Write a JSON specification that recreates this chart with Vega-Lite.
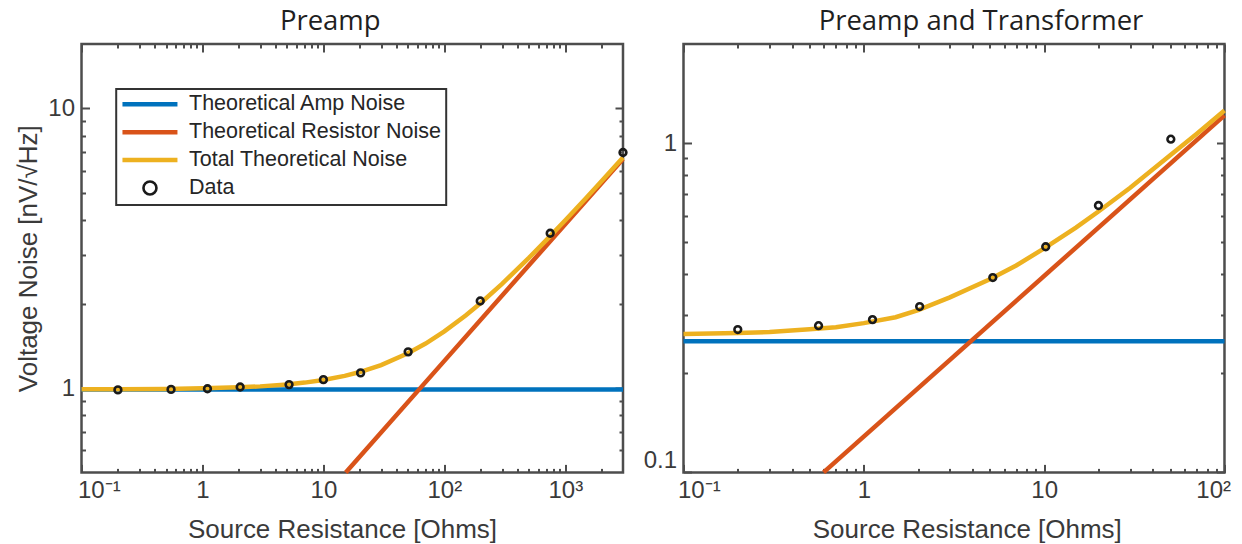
{
  "$schema": "https://vega.github.io/schema/vega-lite/v6.json",
  "background": "white",
  "padding": {"left": 13.5, "top": 7, "right": 4, "bottom": 4},
  "spacing": 8,
  "datasets": {
    "preamp_curves": [
      {"series": "Theoretical Amp Noise", "r": 0.1, "v": 0.99},
      {"series": "Theoretical Amp Noise", "r": 3000, "v": 0.99},
      {"series": "Theoretical Resistor Noise", "r": 15.3, "v": 0.5},
      {"series": "Theoretical Resistor Noise", "r": 100, "v": 1.252},
      {"series": "Theoretical Resistor Noise", "r": 3000, "v": 6.6},
      {"series": "Total Theoretical Noise", "r": 0.1, "v": 0.991},
      {"series": "Total Theoretical Noise", "r": 0.2, "v": 0.992},
      {"series": "Total Theoretical Noise", "r": 0.5, "v": 0.994},
      {"series": "Total Theoretical Noise", "r": 1, "v": 0.999},
      {"series": "Total Theoretical Noise", "r": 2, "v": 1.007},
      {"series": "Total Theoretical Noise", "r": 3, "v": 1.015},
      {"series": "Total Theoretical Noise", "r": 5, "v": 1.031},
      {"series": "Total Theoretical Noise", "r": 7, "v": 1.047},
      {"series": "Total Theoretical Noise", "r": 10, "v": 1.07},
      {"series": "Total Theoretical Noise", "r": 15, "v": 1.107},
      {"series": "Total Theoretical Noise", "r": 20, "v": 1.142},
      {"series": "Total Theoretical Noise", "r": 30, "v": 1.21},
      {"series": "Total Theoretical Noise", "r": 50, "v": 1.333},
      {"series": "Total Theoretical Noise", "r": 70, "v": 1.444},
      {"series": "Total Theoretical Noise", "r": 100, "v": 1.596},
      {"series": "Total Theoretical Noise", "r": 150, "v": 1.819},
      {"series": "Total Theoretical Noise", "r": 200, "v": 2.017},
      {"series": "Total Theoretical Noise", "r": 300, "v": 2.36},
      {"series": "Total Theoretical Noise", "r": 500, "v": 2.923},
      {"series": "Total Theoretical Noise", "r": 700, "v": 3.39},
      {"series": "Total Theoretical Noise", "r": 1000, "v": 3.985},
      {"series": "Total Theoretical Noise", "r": 1500, "v": 4.808},
      {"series": "Total Theoretical Noise", "r": 2000, "v": 5.506},
      {"series": "Total Theoretical Noise", "r": 3000, "v": 6.675}
    ],
    "preamp_points": [
      {"series": "Data", "r": 0.2, "v": 0.986},
      {"series": "Data", "r": 0.55, "v": 0.99},
      {"series": "Data", "r": 1.1, "v": 0.995},
      {"series": "Data", "r": 2.05, "v": 1.01},
      {"series": "Data", "r": 5.2, "v": 1.03},
      {"series": "Data", "r": 10, "v": 1.073},
      {"series": "Data", "r": 20.3, "v": 1.134},
      {"series": "Data", "r": 50.2, "v": 1.349},
      {"series": "Data", "r": 198, "v": 2.05},
      {"series": "Data", "r": 750, "v": 3.58},
      {"series": "Data", "r": 3000, "v": 6.96}
    ],
    "xfmr_curves": [
      {"series": "Theoretical Amp Noise", "r": 0.1, "v": 0.25},
      {"series": "Theoretical Amp Noise", "r": 100, "v": 0.25},
      {"series": "Theoretical Resistor Noise", "r": 0.598, "v": 0.1},
      {"series": "Theoretical Resistor Noise", "r": 100, "v": 1.214},
      {"series": "Total Theoretical Noise", "r": 0.1, "v": 0.263},
      {"series": "Total Theoretical Noise", "r": 0.2, "v": 0.265},
      {"series": "Total Theoretical Noise", "r": 0.3, "v": 0.267},
      {"series": "Total Theoretical Noise", "r": 0.5, "v": 0.272},
      {"series": "Total Theoretical Noise", "r": 0.7, "v": 0.276},
      {"series": "Total Theoretical Noise", "r": 1, "v": 0.284},
      {"series": "Total Theoretical Noise", "r": 1.5, "v": 0.296},
      {"series": "Total Theoretical Noise", "r": 2, "v": 0.311},
      {"series": "Total Theoretical Noise", "r": 3, "v": 0.34},
      {"series": "Total Theoretical Noise", "r": 5, "v": 0.386},
      {"series": "Total Theoretical Noise", "r": 7, "v": 0.425},
      {"series": "Total Theoretical Noise", "r": 10, "v": 0.479},
      {"series": "Total Theoretical Noise", "r": 15, "v": 0.554},
      {"series": "Total Theoretical Noise", "r": 20, "v": 0.62},
      {"series": "Total Theoretical Noise", "r": 30, "v": 0.732},
      {"series": "Total Theoretical Noise", "r": 50, "v": 0.918},
      {"series": "Total Theoretical Noise", "r": 70, "v": 1.066},
      {"series": "Total Theoretical Noise", "r": 100, "v": 1.257}
    ],
    "xfmr_points": [
      {"series": "Data", "r": 0.2, "v": 0.2715},
      {"series": "Data", "r": 0.561, "v": 0.279},
      {"series": "Data", "r": 1.117, "v": 0.2911},
      {"series": "Data", "r": 2.04, "v": 0.3189},
      {"series": "Data", "r": 5.19, "v": 0.3906},
      {"series": "Data", "r": 10.2, "v": 0.4845},
      {"series": "Data", "r": 20, "v": 0.6465},
      {"series": "Data", "r": 50.4, "v": 1.028}
    ]
  },
  "resolve": {"scale": {"color": "independent", "shape": "independent", "strokeWidth": "independent"}},
  "hconcat": [
    {
      "width": 541.5,
      "height": 428.4,
      "title": {"text": "Preamp", "dx": -22},
      "resolve": {"axis": {"x": "independent", "y": "independent"}},
      "layer": [
        {
          "data": {"name": "preamp_curves"},
          "transform": [{"filter": "datum.series === 'Theoretical Amp Noise'"}],
          "mark": {"type": "line", "strokeCap": "butt"},
          "encoding": {
            "x": {"field": "r", "type": "quantitative", "scale": {"type": "log", "domain": [0.1, 3000], "nice": false},
              "axis": {"orient": "bottom", "values": [0.1, 1, 10, 100, 1000], "tickSize": -8, "labelPadding": 14.5,
                "labelFlush": true, "labelFlushOffset": 4,
                "labelExpr": "datum.value < 0.5 ? '10⁻¹' : datum.value < 5 ? '1' : datum.value < 50 ? '10' : datum.value < 500 ? '10²' : '10³'",
                "title": "Source Resistance [Ohms]", "titleX": 260.5, "titleY": 65.5, "titleBaseline": "alphabetic", "titleAlign": "center"}},
            "y": {"field": "v", "type": "quantitative", "scale": {"type": "log", "domain": [0.5, 17], "nice": false},
              "axis": {"orient": "left", "values": [1, 10], "tickSize": -8, "labelPadding": 15,
                "labelExpr": "datum.value >= 5 ? '10' : '1'",
                "title": "Voltage Noise [nV/√Hz]", "titleX": -45, "titleBaseline": "alphabetic", "titleAngle": 270}},
            "color": {"field": "series", "type": "nominal",
              "scale": {"domain": ["Theoretical Amp Noise", "Theoretical Resistor Noise", "Total Theoretical Noise", "Data"], "range": ["#0072BD", "#D95319", "#EDB120", "#1a1a1a"]},
              "legend": {"orient": "none", "legendX": 34.7, "legendY": 45, "title": null, "padding": 4.5, "rowPadding": 4.9, "symbolOffset": 18.5, "labelOffset": 28.3, "symbolSize": 100, "labelFont": "Liberation Sans", "labelFontSize": 21.5, "labelColor": "#262626", "labelLimit": 400, "strokeColor": "#333333", "fillColor": "#ffffff", "cornerRadius": 0}},
            "strokeWidth": {"field": "series", "type": "nominal",
              "scale": {"type": "ordinal", "domain": ["Theoretical Amp Noise", "Theoretical Resistor Noise", "Total Theoretical Noise", "Data"], "range": [4.5, 4.5, 4.5, 2.6]},
              "legend": {"orient": "none", "legendX": 34.7, "legendY": 45, "title": null, "padding": 4.5, "rowPadding": 4.9, "symbolOffset": 18.5, "labelOffset": 28.3, "symbolSize": 100, "labelFont": "Liberation Sans", "labelFontSize": 21.5, "labelColor": "#262626", "labelLimit": 400, "strokeColor": "#333333", "fillColor": "#ffffff", "cornerRadius": 0}}
          }
        },
        {
          "data": {"name": "preamp_curves"},
          "transform": [{"filter": "datum.series === 'Theoretical Resistor Noise'"}],
          "mark": {"type": "line", "strokeCap": "butt"},
          "encoding": {
            "x": {"field": "r", "type": "quantitative", "scale": {"type": "log", "domain": [0.1, 3000], "nice": false},
              "axis": {"orient": "bottom", "values": [0.2, 0.3, 0.4, 0.5, 0.6, 0.7, 0.8, 0.9, 2, 3, 4, 5, 6, 7, 8, 9, 20, 30, 40, 50, 60, 70, 80, 90, 200, 300, 400, 500, 600, 700, 800, 900, 2000], "tickSize": -4, "labels": false, "title": null}},
            "y": {"field": "v", "type": "quantitative", "scale": {"type": "log", "domain": [0.5, 17], "nice": false},
              "axis": {"orient": "left", "values": [0.6, 0.7, 0.8, 0.9, 2, 3, 4, 5, 6, 7, 8, 9], "tickSize": -4, "labels": false, "title": null}},
            "color": {"field": "series", "type": "nominal",
              "scale": {"domain": ["Theoretical Amp Noise", "Theoretical Resistor Noise", "Total Theoretical Noise", "Data"], "range": ["#0072BD", "#D95319", "#EDB120", "#1a1a1a"]},
              "legend": {"orient": "none", "legendX": 34.7, "legendY": 45, "title": null, "padding": 4.5, "rowPadding": 4.9, "symbolOffset": 18.5, "labelOffset": 28.3, "symbolSize": 100, "labelFont": "Liberation Sans", "labelFontSize": 21.5, "labelColor": "#262626", "labelLimit": 400, "strokeColor": "#333333", "fillColor": "#ffffff", "cornerRadius": 0}},
            "strokeWidth": {"field": "series", "type": "nominal",
              "scale": {"type": "ordinal", "domain": ["Theoretical Amp Noise", "Theoretical Resistor Noise", "Total Theoretical Noise", "Data"], "range": [4.5, 4.5, 4.5, 2.6]}}
          }
        },
        {
          "data": {"name": "preamp_curves"},
          "transform": [{"filter": "datum.series === 'Total Theoretical Noise'"}],
          "mark": {"type": "line", "strokeCap": "butt"},
          "encoding": {
            "x": {"field": "r", "type": "quantitative", "scale": {"type": "log", "domain": [0.1, 3000], "nice": false},
              "axis": {"orient": "top", "values": [0.1, 1, 10, 100, 1000], "tickSize": -8, "labels": false, "title": null}},
            "y": {"field": "v", "type": "quantitative", "scale": {"type": "log", "domain": [0.5, 17], "nice": false},
              "axis": {"orient": "right", "values": [1, 10], "tickSize": -8, "labels": false, "title": null}},
            "color": {"field": "series", "type": "nominal",
              "scale": {"domain": ["Theoretical Amp Noise", "Theoretical Resistor Noise", "Total Theoretical Noise", "Data"], "range": ["#0072BD", "#D95319", "#EDB120", "#1a1a1a"]}},
            "strokeWidth": {"field": "series", "type": "nominal",
              "scale": {"type": "ordinal", "domain": ["Theoretical Amp Noise", "Theoretical Resistor Noise", "Total Theoretical Noise", "Data"], "range": [4.5, 4.5, 4.5, 2.6]}}
          }
        },
        {
          "data": {"name": "preamp_points"},
          "mark": {"type": "point", "filled": false, "size": 27, "opacity": 1},
          "encoding": {
            "x": {"field": "r", "type": "quantitative", "scale": {"type": "log", "domain": [0.1, 3000], "nice": false},
              "axis": {"orient": "top", "values": [0.2, 0.3, 0.4, 0.5, 0.6, 0.7, 0.8, 0.9, 2, 3, 4, 5, 6, 7, 8, 9, 20, 30, 40, 50, 60, 70, 80, 90, 200, 300, 400, 500, 600, 700, 800, 900, 2000], "tickSize": -4, "labels": false, "title": null}},
            "y": {"field": "v", "type": "quantitative", "scale": {"type": "log", "domain": [0.5, 17], "nice": false},
              "axis": {"orient": "right", "values": [0.6, 0.7, 0.8, 0.9, 2, 3, 4, 5, 6, 7, 8, 9], "tickSize": -4, "labels": false, "title": null}},
            "color": {"field": "series", "type": "nominal",
              "scale": {"domain": ["Theoretical Amp Noise", "Theoretical Resistor Noise", "Total Theoretical Noise", "Data"], "range": ["#0072BD", "#D95319", "#EDB120", "#1a1a1a"]}},
            "shape": {"field": "series", "type": "nominal",
              "scale": {"domain": ["Theoretical Amp Noise", "Theoretical Resistor Noise", "Total Theoretical Noise", "Data"], "range": ["M-5.5,0H5.5", "M-5.5,0H5.5", "M-5.5,0H5.5", "M-1.3,0A1.3,1.3 0 1,1 1.3,0A1.3,1.3 0 1,1 -1.3,0Z"]},
              "legend": {"orient": "none", "legendX": 34.7, "legendY": 45, "title": null, "padding": 4.5, "rowPadding": 4.9, "symbolOffset": 18.5, "labelOffset": 28.3, "symbolSize": 100, "labelFont": "Liberation Sans", "labelFontSize": 21.5, "labelColor": "#262626", "labelLimit": 400, "strokeColor": "#333333", "fillColor": "#ffffff", "cornerRadius": 0}},
            "strokeWidth": {"field": "series", "type": "nominal",
              "scale": {"type": "ordinal", "domain": ["Theoretical Amp Noise", "Theoretical Resistor Noise", "Total Theoretical Noise", "Data"], "range": [4.5, 4.5, 4.5, 2.6]}}
          }
        }
      ]
    },
    {
      "width": 541,
      "height": 428.4,
      "title": {"text": "Preamp and Transformer", "dx": 27},
      "resolve": {"axis": {"x": "independent", "y": "independent"}},
      "layer": [
        {
          "data": {"name": "xfmr_curves"},
          "transform": [{"filter": "datum.series === 'Theoretical Amp Noise'"}],
          "mark": {"type": "line", "color": "#0072BD", "strokeWidth": 4.5, "strokeCap": "butt"},
          "encoding": {
            "x": {"field": "r", "type": "quantitative", "scale": {"type": "log", "domain": [0.1, 100], "nice": false},
              "axis": {"orient": "bottom", "values": [0.1, 1, 10, 100], "tickSize": -8, "labelPadding": 14.5,
                "labelFlush": true, "labelFlushOffset": 6,
                "labelExpr": "datum.value < 0.5 ? '10⁻¹' : datum.value < 5 ? '1' : datum.value < 50 ? '10' : '10²'",
                "title": "Source Resistance [Ohms]", "titleX": 283.3, "titleY": 65.5, "titleBaseline": "alphabetic", "titleAlign": "center"}},
            "y": {"field": "v", "type": "quantitative", "scale": {"type": "log", "domain": [0.1, 2], "nice": false},
              "axis": {"orient": "left", "values": [0.1, 1], "tickSize": -8, "labelPadding": 15,
                "labelFlush": true, "labelFlushOffset": 0,
                "labelExpr": "datum.value >= 0.5 ? '1' : '0.1'", "title": null}}
          }
        },
        {
          "data": {"name": "xfmr_curves"},
          "transform": [{"filter": "datum.series === 'Theoretical Resistor Noise'"}],
          "mark": {"type": "line", "color": "#D95319", "strokeWidth": 4.5, "strokeCap": "butt"},
          "encoding": {
            "x": {"field": "r", "type": "quantitative", "scale": {"type": "log", "domain": [0.1, 100], "nice": false},
              "axis": {"orient": "bottom", "values": [0.2, 0.3, 0.4, 0.5, 0.6, 0.7, 0.8, 0.9, 2, 3, 4, 5, 6, 7, 8, 9, 20, 30, 40, 50, 60, 70, 80, 90], "tickSize": -4, "labels": false, "title": null}},
            "y": {"field": "v", "type": "quantitative", "scale": {"type": "log", "domain": [0.1, 2], "nice": false},
              "axis": {"orient": "left", "values": [0.2, 0.3, 0.4, 0.5, 0.6, 0.7, 0.8, 0.9], "tickSize": -4, "labels": false, "title": null}}
          }
        },
        {
          "data": {"name": "xfmr_curves"},
          "transform": [{"filter": "datum.series === 'Total Theoretical Noise'"}],
          "mark": {"type": "line", "color": "#EDB120", "strokeWidth": 4.5, "strokeCap": "butt"},
          "encoding": {
            "x": {"field": "r", "type": "quantitative", "scale": {"type": "log", "domain": [0.1, 100], "nice": false},
              "axis": {"orient": "top", "values": [0.1, 1, 10, 100], "tickSize": -8, "labels": false, "title": null}},
            "y": {"field": "v", "type": "quantitative", "scale": {"type": "log", "domain": [0.1, 2], "nice": false},
              "axis": {"orient": "right", "values": [0.1, 1], "tickSize": -8, "labels": false, "title": null}}
          }
        },
        {
          "data": {"name": "xfmr_points"},
          "mark": {"type": "point", "filled": false, "size": 45, "color": "#1a1a1a", "strokeWidth": 2.6, "opacity": 1},
          "encoding": {
            "x": {"field": "r", "type": "quantitative", "scale": {"type": "log", "domain": [0.1, 100], "nice": false},
              "axis": {"orient": "top", "values": [0.2, 0.3, 0.4, 0.5, 0.6, 0.7, 0.8, 0.9, 2, 3, 4, 5, 6, 7, 8, 9, 20, 30, 40, 50, 60, 70, 80, 90], "tickSize": -4, "labels": false, "title": null}},
            "y": {"field": "v", "type": "quantitative", "scale": {"type": "log", "domain": [0.1, 2], "nice": false},
              "axis": {"orient": "right", "values": [0.2, 0.3, 0.4, 0.5, 0.6, 0.7, 0.8, 0.9], "tickSize": -4, "labels": false, "title": null}}
          }
        }
      ]
    }
  ],
  "config": {
    "view": {"stroke": "#4d4d4d", "strokeWidth": 2.5},
    "axis": {
      "domain": false, "grid": false, "ticks": true,
      "tickColor": "#4d4d4d", "tickWidth": 2,
      "labelFont": "Liberation Sans", "labelFontSize": 24, "labelColor": "#3a3a3a",
      "titleFont": "Liberation Sans", "titleFontSize": 26, "titleColor": "#3a3a3a", "titleFontWeight": "normal"
    },
    "title": {"font": "Open Sans", "fontSize": 27.5, "color": "#1f1f1f", "fontWeight": "normal", "anchor": "middle", "frame": "group", "baseline": "alphabetic", "offset": 7},
    "legend": {"strokeWidth": 2}
  }
}
